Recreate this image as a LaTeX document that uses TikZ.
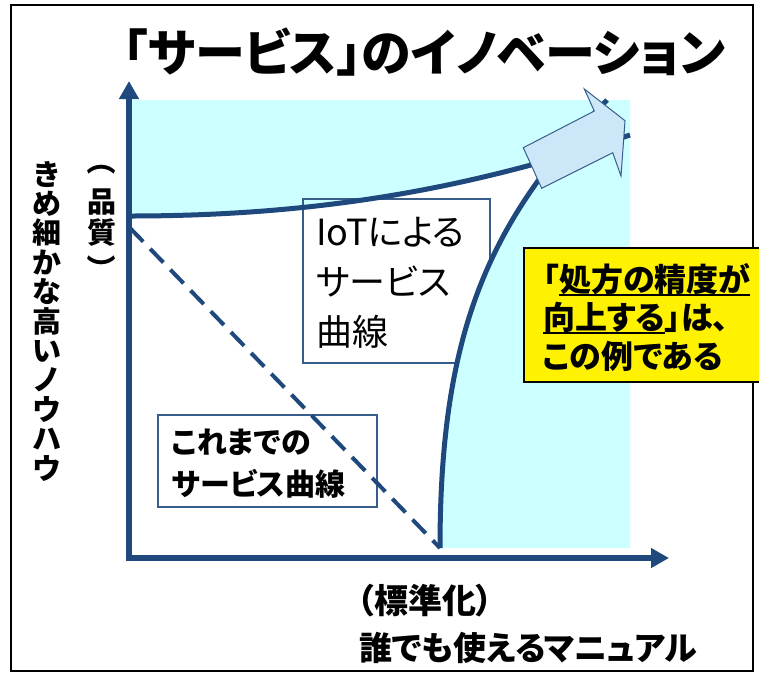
\documentclass[tikz,border=0pt]{standalone}
\usepackage{fontspec}
\usepackage{graphicx}
\usetikzlibrary{arrows.meta}
\newfontfamily\jp[RawFeature=+palt]{Noto Sans CJK JP}
\newfontfamily\jpv{Noto Sans CJK JP}
\definecolor{axisblue}{HTML}{1F497D}
\definecolor{boxblue}{HTML}{385D8A}
\definecolor{areacyan}{HTML}{CCFFFF}
\definecolor{arrowfill}{HTML}{CCE8F8}
\newsavebox\myulbox
\newcommand\myul[1]{\sbox\myulbox{#1}\rlap{\rule[-4.5pt]{\wd\myulbox}{1.6pt}}\usebox\myulbox}
\begin{document}
\begin{tikzpicture}[x=1pt,y=-1pt,
  lbl/.style={inner sep=0pt, outer sep=0pt},
  framebox/.style={draw=boxblue, line width=1.3pt},
  curve/.style={draw=axisblue, line width=5pt},
  axis/.style={draw=axisblue, line width=6pt, -{Triangle[length=18pt,width=19pt]}},
]
\useasboundingbox (0,0) rectangle (759,678);
\draw[line width=2pt] (10.5,4.5) rectangle (752.5,671);

\coordinate (Ytip) at (129,81);
\coordinate (Xtip) at (669,558);
\coordinate (Ybot) at (129,561);
\coordinate (Xbot) at (126,558);
\coordinate (A) at (130,216);
\coordinate (B) at (630,135);
\coordinate (C) at (130,228);
\coordinate (D) at (440,548);
\coordinate (E) at (607,100);

% cyan area
\fill[areacyan] (130,100) rectangle (630,548);
\begin{scope}
 \clip (A) .. controls (330,216) and (480,185) .. (B) -- (630,548) -- (130,548) -- cycle;
 \fill[white] (130,548) -- (D) .. controls (440,330) and (490,220) .. (E) -- (130,100) -- cycle;
\end{scope}

% boxes
\draw[framebox] (303,199) rectangle (490,363);
\draw[framebox] (158,415) rectangle (377,507);
\fill[areacyan] (D) .. controls (440,330) and (490,220) .. (E) -- (630,100) -- (630,548) -- cycle;

% curves
\draw[curve] (A) .. controls (330,216) and (480,185) .. (B);
\draw[curve] (D) .. controls (440,330) and (490,220) .. (E);
\draw[axisblue, line width=4pt, dash pattern=on 19pt off 10pt] (C) -- (D);

% axes
\draw[axis] (Ybot) -- (Ytip);
\draw[axis] (Xbot) -- (Xtip);

% arrow block
\draw[boxblue, line width=1pt, fill=arrowfill, line join=miter]
  (541.7,188.3) -- (523.3,147.7) -- (594.3,111) -- (584.3,89) -- (625,120.7) -- (621,176) -- (612.7,152.7) -- cycle;

% yellow box
\draw[line width=1.5pt, fill=yellow] (524,248) rectangle (765,382);

% texts
\node[lbl, font=\jp\bfseries\fontsize{50}{60}\selectfont, anchor=west] (title) at (123,52) {「サービス」のイノベーション};

\node[lbl, font=\jpv\bfseries\fontsize{29}{29.4}\selectfont, align=center] (ylabel) at (47,321) {き\\め\\細\\か\\な\\高\\い\\ノ\\ウ\\ハ\\ウ};
\node[lbl, font=\jpv\bfseries\fontsize{29}{31}\selectfont, align=center] (qual) at (102,218) {品\\質};
\node[lbl, font=\jpv\bfseries\fontsize{29}{31}\selectfont] (qopen) at (102,161) {\rotatebox[origin=c]{-90}{（}};
\node[lbl, font=\jpv\bfseries\fontsize{29}{31}\selectfont] (qclose) at (102,269) {\rotatebox[origin=c]{-90}{）}};

\node[lbl, font=\jp\fontsize{36}{50}\selectfont, align=left, anchor=west] (iot) at (316,283) {IoTによる\\サービス\\曲線};
\node[lbl, font=\jp\bfseries\fontsize{30}{42}\selectfont, align=left, anchor=west] (old) at (172,464) {これまでの\\サービス曲線};

\node[lbl, font=\jp\bfseries\fontsize{32}{38.5}\selectfont, align=left, anchor=west] (ytext) at (543,317) {「\myul{処方の精度が}\\\myul{向上する}」は、\\この例である};

\node[lbl, font=\jp\bfseries\fontsize{34}{40}\selectfont, anchor=west] (xl1) at (357,601) {（標準化）};
\node[lbl, font=\jp\bfseries\fontsize{33}{40}\selectfont, anchor=west] (xl2) at (359,648) {誰でも使えるマニュアル};
\end{tikzpicture}
\end{document}
